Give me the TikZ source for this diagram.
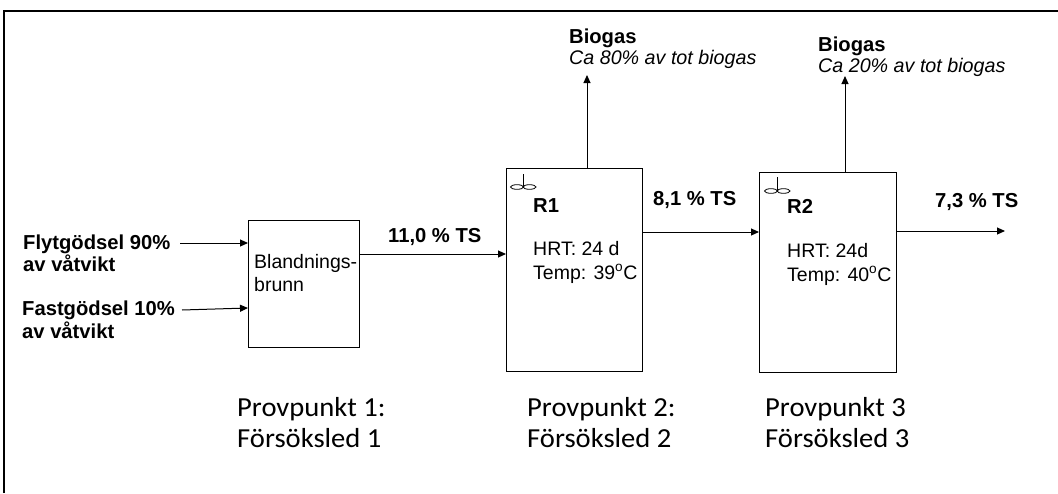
\documentclass[tikz,border=0pt]{standalone}
\usepackage{fontspec}
\setmainfont{Liberation Sans}
\newfontfamily\calib[FakeStretch=1.04]{Carlito}
\usetikzlibrary{arrows.meta,calc}
\begin{document}
\begin{tikzpicture}[x=1pt,y=-1pt,
  txt/.style={anchor=base west,inner sep=0pt,font=\fontsize{19.5}{21}\selectfont},
  btxt/.style={txt,font=\fontsize{20.2}{21}\selectfont\bfseries},
  itxt/.style={txt,font=\fontsize{19.7}{21}\selectfont\itshape},
  ctxt/.style={anchor=base west,inner sep=0pt,font=\fontsize{27.5}{31}\selectfont\calib,align=left},
  unit/.style={draw,line width=1pt,anchor=north west,inner sep=0pt,outer sep=0pt},
  flow/.style={line width=1pt,-{Triangle[length=8pt,width=7pt]}},
  stir/.style={line width=0.8pt}]
\useasboundingbox (0,0) rectangle (1058,493);
\draw[line width=2pt] (4,493) -- (4,11) -- (1058,11);

% units
\node[unit,minimum width=111pt,minimum height=127pt] (mix) at (248,220) {};
\node[unit,minimum width=136pt,minimum height=203pt] (r1) at (506,168) {};
\node[unit,minimum width=137pt,minimum height=200pt] (r2) at (759,172) {};

% mixing well text
\node[txt] (mixa) at (254,268) {Blandnings-};
\node[txt] (mixb) at (254,291) {brunn};

% inputs
\node[btxt] (in1a) at (23,249) {Flytgödsel 90\%};
\node[btxt] (in1b) at (23,271) {av våtvikt};
\node[btxt] (in2a) at (22,315) {Fastgödsel 10\%};
\node[btxt] (in2b) at (22,338) {av våtvikt};
\coordinate (s1) at (180,243);
\coordinate (s2) at (182,310);
\draw[flow] (s1) -- (s1 -| mix.west);
\draw[flow] (s2) -- ($(mix.west |- s2)+(0,-2)$);

% R1 text
\node[btxt] (r1n) at (533,212) {R1};
\node[txt] (r1a) at (533,255) {HRT: 24 d};
\node[txt] (r1b) at (533,279) {Temp: 39\textsuperscript{o}C};
% R2 text
\node[btxt] (r2n) at (787,213) {R2};
\node[txt] (r2a) at (787,257) {HRT: 24d};
\node[txt] (r2b) at (787,281) {Temp: 40\textsuperscript{o}C};

% stirrers
\draw[stir] (523,174) -- (523,187);
\draw[stir] (517,187) ellipse (6.5pt and 2.3pt) (529.5,187) ellipse (6.5pt and 2.3pt);
\draw[stir] (777,177) -- (777,191);
\draw[stir] (771,191) ellipse (6.5pt and 2.3pt) (783.5,191) ellipse (6.5pt and 2.3pt);

% flow between units
\coordinate (f1) at (0,254);
\draw[flow] (f1 -| mix.east) -- (f1 -| r1.west);
\node[btxt] (l1) at (388,242) {11,0 \% TS};
\coordinate (f2) at (0,232);
\draw[flow] (f2 -| r1.east) -- (f2 -| r2.west);
\node[btxt] (l2) at (653,205) {8,1 \% TS};
\coordinate (out) at (1005,231);
\draw[flow] (out -| r2.east) -- (out);
\node[btxt] (l3) at (935,207) {7,3 \% TS};

% biogas
\node[btxt] (g1a) at (569,43) {Biogas};
\node[itxt] (g1b) at (569,64) {Ca 80\% av tot biogas};
\coordinate (g1) at (587,75);
\draw[flow] (g1 |- r1.north) -- (g1);
\node[btxt] (g2a) at (818,51) {Biogas};
\node[itxt] (g2b) at (818,72) {Ca 20\% av tot biogas};
\coordinate (g2) at (845,76);
\draw[flow] (g2 |- r2.north) -- (g2);

% sample points
\node[ctxt] (p1) at (237,447) {Provpunkt 1:\\Försöksled 1};
\node[ctxt] (p2) at (527,447) {Provpunkt 2:\\Försöksled 2};
\node[ctxt] (p3) at (765,447) {Provpunkt 3\\Försöksled 3};
\end{tikzpicture}
\end{document}
